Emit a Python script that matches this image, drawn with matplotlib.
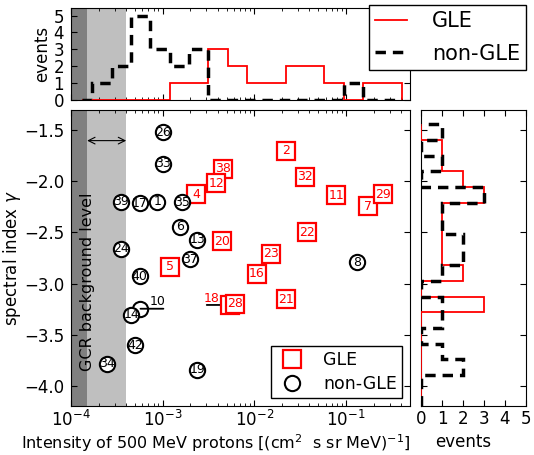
import numpy as np
import matplotlib
matplotlib.use('Agg')
import matplotlib.pyplot as plt
from matplotlib.lines import Line2D

# GLE events (drawing order matters where squares overlap)
gle_id = [2, 4, 5, 7, 29, 11, 38, 12, 16, 18, 28, 20, 21, 22, 23, 32]
gle_int = [0.0224, 2.32e-3, 1.21e-3, 0.174, 0.254, 0.0785, 4.52e-3, 3.83e-3,
           0.0107, 5.48e-3, 6.1e-3, 4.46e-3, 0.0224, 0.0377, 0.0152, 0.036]
gle_gam = [-1.70, -2.124, -2.838, -2.242, -2.127, -2.134, -1.878, -2.019,
           -2.903, -3.21, -3.197, -2.585, -3.155, -2.50, -2.706, -1.954]

# non-GLE events
ngle_id = [1, 6, 8, 10, 14, 13, 17, 19, 24, 26, 33, 34, 35, 37, 39, 40, 42]
ngle_int = [8.77e-4, 1.54e-3, 0.132, 5.73e-4, 4.57e-4, 2.4e-3, 5.62e-4, 2.38e-3,
            3.49e-4, 1.01e-3, 1.01e-3, 2.48e-4, 1.64e-3, 2.0e-3, 3.47e-4,
            5.62e-4, 5.05e-4]
ngle_gam = [-2.20, -2.445, -2.79, -3.247, -3.306, -2.57, -2.215, -3.846,
            -2.66, -1.518, -1.829, -3.787, -2.205, -2.762, -2.199, -2.929, -3.607]

# events labelled with a leader line instead of inside the marker
offset_labels = {10: 1, 18: -1}

# histogram bins (log10 intensity, spectral index)
int_bins_log = [-3.88, -3.769, -3.558, -3.347, -3.136, -2.924, -2.713, -2.502,
                -2.290, -2.079, -1.868, -1.657, -1.445, -1.234, -1.023, -0.812,
                -0.600, -0.389]
gam_bins = [-4.2, -4.047, -3.895, -3.742, -3.588, -3.435, -3.281, -3.128,
            -2.974, -2.821, -2.667, -2.514, -2.360, -2.207, -2.053, -1.900,
            -1.746, -1.593, -1.439]

# GCR background levels
gcr_low, gcr_high = 1.5e-4, 4e-4

plt.rcParams.update({
    'font.family': 'DejaVu Sans',
    'font.size': 12,
    'xtick.direction': 'in', 'ytick.direction': 'in',
    'xtick.top': True, 'ytick.right': True,
    'xtick.major.size': 4, 'ytick.major.size': 4,
    'xtick.minor.size': 2, 'ytick.minor.size': 2,
    'xtick.major.pad': 3, 'ytick.major.pad': 5,
    'legend.fancybox': False, 'legend.edgecolor': 'black',
    'legend.framealpha': 1.0,
})

W, H = 534, 455
fig = plt.figure(figsize=(W / 100, H / 100), dpi=100)
ax = fig.add_axes([71 / W, 49 / H, 339 / W, 296 / H])
ax_top = fig.add_axes([71 / W, 355 / H, 339 / W, 92 / H], sharex=ax)
ax_right = fig.add_axes([421 / W, 49 / H, 105 / W, 296 / H], sharey=ax)

for a in (ax, ax_top):
    a.axvspan(1e-4, gcr_low, color='0.5', lw=0, zorder=0)
    a.axvspan(gcr_low, gcr_high, color='0.75', lw=0, zorder=0)

# scatter with numbers
z = 3
for i, x, g in zip(gle_id, gle_int, gle_gam):
    ax.plot(x, g, 's', ms=12.5, mfc='white', mec='red', mew=1.6, zorder=z)
    if i in offset_labels:
        s = offset_labels[i]
        ax.annotate('', xy=(x, g), xytext=(17 * s, 0), textcoords='offset points',
                    arrowprops=dict(arrowstyle='-', lw=1.3, color='k',
                                    shrinkA=0, shrinkB=0), zorder=z - 0.5)
        ax.annotate(str(i), xy=(x, g), xytext=(13.5 * s, 5), textcoords='offset points',
                    ha='center', va='center', color='red', fontsize=9, zorder=z)
    else:
        ax.text(x, g, str(i), ha='center', va='center', color='red',
                fontsize=9, zorder=z + 0.5)
    z += 1

for i, x, g in zip(ngle_id, ngle_int, ngle_gam):
    ax.plot(x, g, 'o', ms=11, mfc='white', mec='black', mew=1.5, zorder=z)
    if i in offset_labels:
        s = offset_labels[i]
        ax.annotate('', xy=(x, g), xytext=(16.5 * s, 0), textcoords='offset points',
                    arrowprops=dict(arrowstyle='-', lw=1.3, color='k',
                                    shrinkA=0, shrinkB=0), zorder=z + 0.6)
        ax.annotate(str(i), xy=(x, g), xytext=(12 * s, 5), textcoords='offset points',
                    ha='center', va='center', color='black', fontsize=9, zorder=z)
    else:
        ax.text(x, g, str(i), ha='center', va='center', color='black',
                fontsize=9, zorder=z + 0.5)
    z += 1

ax.annotate('', xy=(gcr_low, -1.6), xytext=(gcr_high, -1.6),
            arrowprops=dict(arrowstyle='<->', lw=0.8, color='k',
                            shrinkA=0, shrinkB=0))
ax.text(gcr_low, -2.98, 'GCR background level', rotation=90,
        ha='center', va='center', fontsize=11.5)

ax.set_xscale('log')
ax.set_xlim(1e-4, 0.5)
ax.set_ylim(-4.2, -1.3)
ax.set_yticks([-4.0, -3.5, -3.0, -2.5, -2.0, -1.5])
ax.set_xlabel('Intensity of 500 MeV protons [(cm$^2$  s sr MeV)$^{-1}$]', fontsize=11.5)
ax.xaxis.set_label_coords(0.428, -0.09)
ax.set_ylabel('spectral index $\\gamma$')
ax.yaxis.set_label_coords(-0.142, 0.5)

leg_handles = [Line2D([], [], ls='none', marker='s', ms=12.5, mfc='white', mec='red', mew=1.6),
               Line2D([], [], ls='none', marker='o', ms=11, mfc='white', mec='black', mew=1.5)]
ax.legend(leg_handles, ['GLE', 'non-GLE'], loc='lower right', numpoints=1,
          fontsize=12.5, borderaxespad=0.45, borderpad=0.3, handlelength=1.8,
          handletextpad=0.9, labelspacing=0.35)

# top histogram of intensity
int_edges = 10.0 ** np.array(int_bins_log)
gle_hx, _ = np.histogram(gle_int, bins=int_edges)
ngle_hx, _ = np.histogram(ngle_int, bins=int_edges)
ax_top.stairs(gle_hx, int_edges, color='red', lw=1.3, zorder=3)
ax_top.stairs(ngle_hx, int_edges, color='black', lw=2.5, ls=(0, (3, 2)), zorder=4)
ax_top.set_ylim(0, 5.45)
ax_top.set_yticks([0, 1, 2, 3, 4, 5])
ax_top.set_ylabel('events')
ax_top.yaxis.set_label_coords(-0.06, 0.5)
ax_top.tick_params(labelbottom=False)

top_handles = [Line2D([], [], color='red', lw=1.3),
               Line2D([], [], color='black', lw=2.5, ls=(0, (3, 2)))]
ax_top.legend(top_handles, ['GLE', 'non-GLE'], loc='upper right',
              bbox_to_anchor=(526 / W, 1 - 5 / H), bbox_transform=fig.transFigure,
              fontsize=15, handlelength=1.5, handletextpad=1.2, borderpad=0.3,
              labelspacing=0.6, borderaxespad=0)

# right histogram of spectral index
gle_hy, _ = np.histogram(gle_gam, bins=gam_bins)
ngle_hy, _ = np.histogram(ngle_gam, bins=gam_bins)
ax_right.stairs(gle_hy, gam_bins, orientation='horizontal', color='red', lw=1.3, zorder=3)
ax_right.stairs(ngle_hy, gam_bins, orientation='horizontal', color='black', lw=2.5,
                ls=(0, (3, 2)), zorder=4)
ax_right.set_xlim(0, 5)
ax_right.set_xticks([0, 1, 2, 3, 4, 5])
ax_right.set_xlabel('events')
ax_right.xaxis.set_label_coords(0.40, -0.09)
ax_right.tick_params(labelleft=False)

fig.savefig('out.png', dpi=100, facecolor='white')
